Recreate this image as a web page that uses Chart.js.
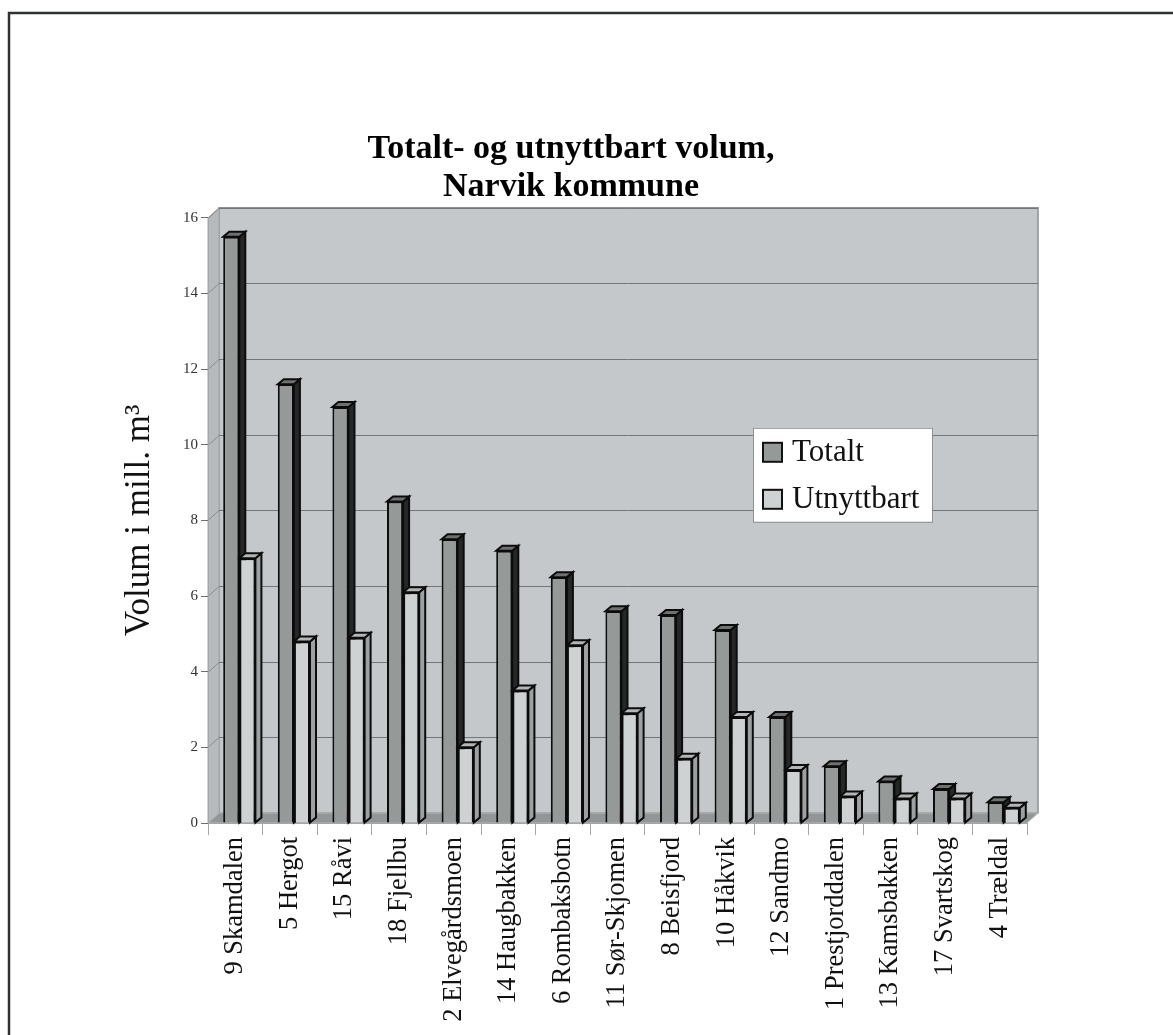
<!DOCTYPE html>
<html>
<head>
<meta charset="utf-8">
<title>Totalt- og utnyttbart volum, Narvik kommune</title>
<script src="https://cdn.jsdelivr.net/npm/chart.js@4.4.1/dist/chart.umd.min.js"></script>
<style>
  html, body { margin: 0; padding: 0; background: #ffffff; }
  #wrap { position: relative; width: 1173px; height: 1035px; }
</style>
</head>
<body>
<div id="wrap"><canvas id="volum" width="1173" height="1035"></canvas></div>
<script>
// Forekomster, sortert etter totalt volum (mill. m3)
var omrader = ['9 Skamdalen', '5 Hergot', '15 Råvi', '18 Fjellbu', '2 Elvegårdsmoen',
	'14 Haugbakken', '6 Rombaksbotn', '11 Sør-Skjomen', '8 Beisfjord', '10 Håkvik',
	'12 Sandmo', '1 Prestjorddalen', '13 Kamsbakken', '17 Svartskog', '4 Trældal'];
var totalt = [15.5, 11.6, 11.0, 8.5, 7.5, 7.2, 6.5, 5.6, 5.5, 5.1, 2.8, 1.5, 1.1, 0.9, 0.55];
var utnyttbart = [7.0, 4.8, 4.9, 6.1, 2.0, 3.5, 4.7, 2.9, 1.7, 2.8, 1.4, 0.7, 0.65, 0.65, 0.4];
var yMax = 16;
var yStep = 2;

var serif = "'Liberation Serif', 'Times New Roman', serif";

// colours: front face, side face, top face
var farger = [
	{ front: '#959a99', side: '#262828', top: '#6d7170' },
	{ front: '#cfd2d3', side: '#9da1a2', top: '#b3b6b7' }
];

// depth of the walls and of each bar, and how far the bars sit into the floor
var WALL_DX = 11, WALL_DY = 10;
var BAR_DX = 6, BAR_DY = 5;
var BAR_SHIFT = 4;

function poly(ctx, pts, fill, stroke, lw) {
	ctx.beginPath();
	ctx.moveTo(pts[0][0], pts[0][1]);
	for (var i = 1; i < pts.length; i++) ctx.lineTo(pts[i][0], pts[i][1]);
	ctx.closePath();
	if (fill) { ctx.fillStyle = fill; ctx.fill(); }
	if (stroke) { ctx.strokeStyle = stroke; ctx.lineWidth = lw || 1; ctx.stroke(); }
}

// frame, back wall, side wall and floor behind the bars
var kulisse = {
	id: 'kulisse',
	beforeDraw: function(chart) {
		var ctx = chart.ctx;
		var a = chart.chartArea;
		var y = chart.scales.y;
		var L = a.left, R = a.right, T = a.top, B = a.bottom;
		ctx.save();

		// page frame
		ctx.strokeStyle = '#2d3231';
		ctx.lineWidth = 2.5;
		ctx.beginPath();
		ctx.moveTo(9, chart.height);
		ctx.lineTo(9, 13);
		ctx.lineTo(chart.width, 13);
		ctx.stroke();

		// back wall
		poly(ctx, [[L + WALL_DX, T - WALL_DY], [R + WALL_DX, T - WALL_DY], [R + WALL_DX, B - WALL_DY], [L + WALL_DX, B - WALL_DY]], '#c5c8cb', '#8d9194', 1.5);
		// side wall
		poly(ctx, [[L, T], [L + WALL_DX, T - WALL_DY], [L + WALL_DX, B - WALL_DY], [L, B]], '#b6babc', '#a3a6a8', 1);
		// floor
		poly(ctx, [[L, B], [L + WALL_DX, B - WALL_DY], [R + WALL_DX, B - WALL_DY], [R, B]], '#939697', '#b4b7b8', 1);

		// gridlines on back wall and side wall
		ctx.lineWidth = 1;
		for (var v = yStep; v <= yMax; v += yStep) {
			var py = Math.round(y.getPixelForValue(v)) + 0.5;
			ctx.strokeStyle = '#72767a';
			ctx.beginPath();
			ctx.moveTo(L + WALL_DX, py - WALL_DY);
			ctx.lineTo(R + WALL_DX, py - WALL_DY);
			ctx.stroke();
			ctx.strokeStyle = '#8a8e91';
			ctx.beginPath();
			ctx.moveTo(L, py);
			ctx.lineTo(L + WALL_DX, py - WALL_DY);
			ctx.stroke();
		}
		ctx.restore();
	},
	// side and top faces; the front faces are drawn by the bar elements
	beforeDatasetsDraw: function(chart) {
		var ctx = chart.ctx;
		ctx.save();
		ctx.translate(BAR_SHIFT, 0);
		ctx.lineJoin = 'miter';
		for (var i = 0; i < omrader.length; i++) {
			for (var d = 0; d < chart.data.datasets.length; d++) {
				var el = chart.getDatasetMeta(d).data[i];
				var x0 = el.x - el.width / 2, x1 = el.x + el.width / 2;
				var top = el.y, base = el.base;
				poly(ctx, [[x1, top], [x1 + BAR_DX, top - BAR_DY], [x1 + BAR_DX, base - BAR_DY], [x1, base]], farger[d].side, '#0c0c0c', 2);
				poly(ctx, [[x0, top], [x0 + BAR_DX, top - BAR_DY], [x1 + BAR_DX, top - BAR_DY], [x1, top]], farger[d].top, '#0c0c0c', 2);
			}
		}
		// keep the shift while the bar elements draw their fronts
	},
	afterDatasetsDraw: function(chart) {
		chart.ctx.restore();
	},
	// legend box inside the plot
	afterDraw: function(chart) {
		var ctx = chart.ctx;
		var a = chart.chartArea;
		var bx = a.left + 545, by = a.top + 210, bw = 179, bh = 94;
		ctx.save();
		ctx.fillStyle = '#ffffff';
		ctx.fillRect(bx, by, bw, bh);
		ctx.strokeStyle = '#8e9194';
		ctx.lineWidth = 1;
		ctx.strokeRect(bx + 0.5, by + 0.5, bw, bh);
		ctx.font = '31px ' + serif;
		ctx.textBaseline = 'middle';
		var ds = chart.data.datasets;
		for (var d = 0; d < ds.length; d++) {
			var cy = by + 24 + d * 47;
			ctx.fillStyle = ds[d].backgroundColor;
			ctx.fillRect(bx + 10, cy - 9, 19, 19);
			ctx.strokeStyle = '#111111';
			ctx.lineWidth = 2;
			ctx.strokeRect(bx + 10, cy - 9, 19, 19);
			ctx.fillStyle = '#111111';
			ctx.fillText(ds[d].label, bx + 39, cy + 1);
		}
		ctx.restore();
	}
};

new Chart(document.getElementById('volum'), {
	type: 'bar',
	data: {
		labels: omrader,
		datasets: [
			{ label: 'Totalt', data: totalt, backgroundColor: farger[0].front, borderColor: '#0c0c0c', borderWidth: 2 },
			{ label: 'Utnyttbart', data: utnyttbart, backgroundColor: farger[1].front, borderColor: '#0c0c0c', borderWidth: 2 }
		]
	},
	options: {
		responsive: false,
		animation: false,
		devicePixelRatio: 1,
		layout: { padding: { left: 115, right: 146, top: 0, bottom: 0 } },
		datasets: { bar: { categoryPercentage: 0.59, barPercentage: 1.0, clip: false } },
		plugins: {
			legend: { display: false },
			tooltip: { enabled: false },
			title: {
				display: true,
				text: ['Totalt- og utnyttbart volum,', 'Narvik kommune'],
				color: '#000000',
				font: { family: serif, size: 34, weight: 'bold', lineHeight: 1.1 },
				padding: { top: 131, bottom: 12 }
			}
		},
		scales: {
			x: {
				afterFit: function(s) { s.height = 212; },
				grid: { offset: true, drawOnChartArea: false, drawTicks: true, tickLength: 12, color: '#a4a7a9' },
				border: { display: true, color: '#a4a7a9' },
				ticks: { maxRotation: 90, minRotation: 90, padding: 2, color: '#111111', font: { family: serif, size: 26.5 } }
			},
			y: {
				min: 0,
				max: yMax,
				afterFit: function(s) { s.width = 93; },
				grid: { drawOnChartArea: false, drawTicks: true, tickLength: 7, color: '#6c7073' },
				border: { display: true, color: '#a4a7a9' },
				ticks: { stepSize: yStep, padding: 3, color: '#333333', font: { family: serif, size: 15 } },
				title: { display: true, text: 'Volum i mill. m³', color: '#111111', font: { family: serif, size: 35 } }
			}
		}
	},
	plugins: [kulisse]
});
</script>
</body>
</html>
